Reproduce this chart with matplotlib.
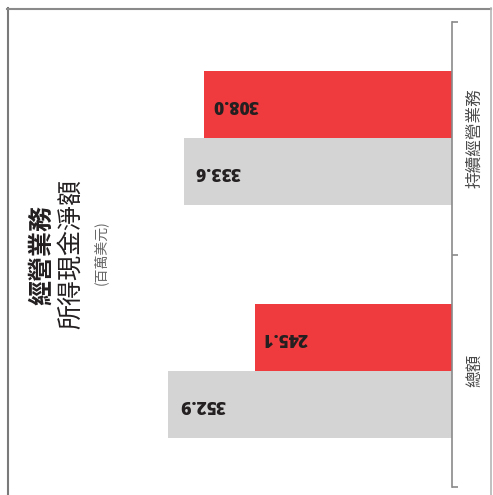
import matplotlib
matplotlib.use('Agg')
import matplotlib.pyplot as plt
from matplotlib.lines import Line2D
import numpy as np

plt.rcParams['font.family'] = ['Noto Sans CJK TC', 'DejaVu Sans']

# ----------- DATA -----------
categories = ['總額', '持續經營業務']
red_values = [245.1, 308.0]
gray_values = [352.9, 333.6]
title_main = '經營業務'
title_sub = '所得現金淨額'
title_unit = '(百萬美元)'

RED = '#ef3b3e'
GRAY = '#d3d4d3'
W, H = 493, 495

fig = plt.figure(figsize=(W / 100, H / 100), dpi=100)

# axes placed in pixel terms: right spine at x=452, from y=22 to y=487
ax = fig.add_axes([7 / W, (H - 487) / H, (452 - 7) / W, (487 - 22) / H])

y = np.arange(len(categories))
bh = 0.288
ax.barh(y + bh / 2, red_values, height=bh, color=RED, linewidth=0)
ax.barh(y - bh / 2, gray_values, height=bh, color=GRAY, linewidth=0)

# value labels, upside down, just past the bar end
for yy, v in zip(y + bh / 2, red_values):
    ax.annotate(f'{v:.1f}', (v, yy), xytext=(5.5, 0), textcoords='offset points',
                rotation=180, ha='left', va='center', fontsize=12.5,
                fontweight='heavy', family='Open Sans', color='#231f20')
for yy, v in zip(y - bh / 2, gray_values):
    ax.annotate(f'{v:.1f}', (v, yy), xytext=(8, 0), textcoords='offset points',
                rotation=180, ha='left', va='center', fontsize=12.5,
                fontweight='heavy', family='Open Sans', color='#231f20')

ax.set_xlim(553.5, 0)
ax.set_ylim(-0.5, 1.5)

for s in ['left', 'top', 'bottom']:
    ax.spines[s].set_visible(False)
ax.spines['right'].set_color('#8a8a8a')
ax.spines['right'].set_linewidth(1.2)
ax.set_xticks([])
ax.yaxis.tick_right()
ax.set_yticks([-0.5, 0.5, 1.5])
ax.set_yticklabels([])
ax.tick_params(axis='y', which='major', length=4, width=1.2, color='#8a8a8a')
ax.set_yticks(y, minor=True)
ax.set_yticklabels(categories, minor=True, rotation=90, va='center',
                   fontsize=12, fontweight='light', color='#4a4a4a')
ax.tick_params(axis='y', which='minor', length=0, pad=10)
ax.patch.set_alpha(0)

# title block, rotated
fig.text(42 / W, 1 - 255 / H, title_main, rotation=90, ha='center', va='center',
         fontsize=18, fontweight='black', color='#231f20')
fig.text(71 / W, 1 - 254 / H, title_sub, rotation=90, ha='center', va='center',
         fontsize=18, fontweight='medium', color='#231f20')
fig.text(101 / W, 1 - 253 / H, title_unit, rotation=90, ha='center', va='center',
         fontsize=10, fontweight='light', color='#666666')

# outer frame (left, top, right)
fig.add_artist(Line2D([7.5 / W, 7.5 / W], [0, 1 - 8 / H], transform=fig.transFigure,
                      color='#7a7a7a', lw=1.5))
fig.add_artist(Line2D([7 / W, 491 / W], [1 - 8.5 / H, 1 - 8.5 / H],
                      transform=fig.transFigure, color='#8a8a8a', lw=1.5))
fig.add_artist(Line2D([490.5 / W, 490.5 / W], [0, 1 - 8 / H], transform=fig.transFigure,
                      color='#b5b5b5', lw=1.2))

fig.savefig('out.png', dpi=100)
